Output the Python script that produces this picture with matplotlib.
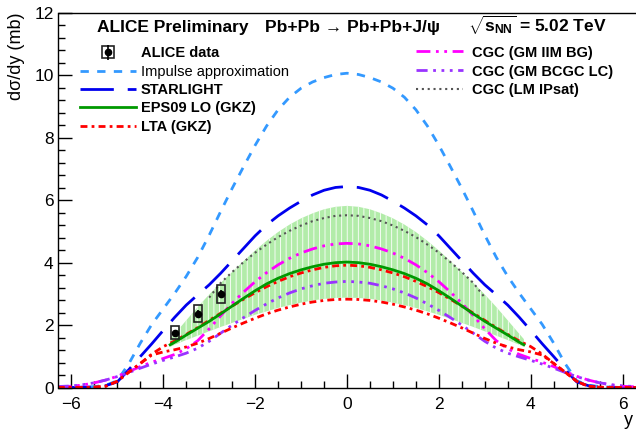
import numpy as np
import matplotlib
matplotlib.use("Agg")
import matplotlib.pyplot as plt
from matplotlib.lines import Line2D
from matplotlib.patches import Rectangle

plt.rcParams['font.family'] = ['Liberation Sans', 'DejaVu Sans']
plt.rcParams['mathtext.fontset'] = 'custom'
plt.rcParams['mathtext.rm'] = 'Liberation Sans'
plt.rcParams['mathtext.bf'] = 'Liberation Sans:bold'
plt.rcParams['mathtext.it'] = 'Liberation Sans:italic'
plt.rcParams['hatch.linewidth'] = 0.6

# rapidity grid (positive half, curves are symmetric in y)
y_full = [0, 0.25, 0.5, 0.75, 1.0, 1.25, 1.5, 1.75, 2.0, 2.25, 2.5, 2.75, 3.0,
          3.25, 3.5, 3.75, 4.0, 4.25, 4.5, 4.75, 5.0, 5.25, 5.5, 5.75, 6.0, 6.3]
impulse = [10.07, 10.03, 9.93, 9.79, 9.59, 9.30, 8.90, 8.38, 7.76, 7.08, 6.38, 5.64, 4.88,
           4.17, 3.56, 3.02, 2.52, 2.02, 1.42, 0.76, 0.22, 0.07, 0.03, 0.01, 0.0, 0.0]
starlight = [6.44, 6.41, 6.32, 6.17, 5.97, 5.75, 5.50, 5.21, 4.86, 4.46, 4.06, 3.66, 3.29,
             2.97, 2.64, 2.25, 1.83, 1.40, 0.99, 0.57, 0.18, 0.06, 0.02, 0.01, 0.0, 0.0]
lta_high = [3.92, 3.90, 3.85, 3.77, 3.67, 3.55, 3.40, 3.23, 3.04, 2.83, 2.61, 2.38, 2.15,
            1.92, 1.70, 1.49, 1.31, 1.07, 0.77, 0.49, 0.20, 0.04, 0.01, 0.0, 0.0, 0.0]
lta_low = [2.83, 2.82, 2.79, 2.74, 2.67, 2.58, 2.48, 2.36, 2.22, 2.07, 1.91, 1.74, 1.57,
           1.42, 1.30, 1.21, 1.14, 1.04, 0.77, 0.49, 0.20, 0.04, 0.01, 0.0, 0.0, 0.0]
cgc_iim = [4.62, 4.60, 4.54, 4.44, 4.31, 4.14, 3.93, 3.68, 3.39, 3.06, 2.70, 2.30, 1.88,
           1.50, 1.24, 1.06, 0.93, 0.81, 0.67, 0.51, 0.36, 0.24, 0.15, 0.08, 0.04, 0.02]
cgc_bcgc = [3.40, 3.38, 3.34, 3.26, 3.16, 3.03, 2.87, 2.68, 2.47, 2.24, 2.00, 1.74, 1.48,
            1.26, 1.10, 0.98, 0.87, 0.75, 0.62, 0.48, 0.35, 0.24, 0.15, 0.09, 0.05, 0.03]

# EPS09 curve and its uncertainty band (|y| < 3.85)
y_eps = [0, 0.25, 0.5, 0.75, 1.0, 1.25, 1.5, 1.75, 2.0, 2.25, 2.5, 2.75, 3.0, 3.25, 3.5, 3.75, 3.85]
eps09 = [4.02, 4.00, 3.95, 3.87, 3.77, 3.65, 3.50, 3.32, 3.10, 2.86, 2.61, 2.36, 2.12, 1.90, 1.68, 1.45, 1.37]
eps09_hi = [5.82, 5.79, 5.71, 5.58, 5.42, 5.22, 4.98, 4.70, 4.39, 4.05, 3.70, 3.35, 2.98, 2.58, 2.15, 1.72, 1.55]
eps09_lo = [2.88, 2.87, 2.84, 2.79, 2.72, 2.64, 2.55, 2.44, 2.33, 2.20, 2.07, 1.94, 1.80, 1.66, 1.52, 1.37, 1.30]

# IPsat curve (|y| < 3)
y_ips = [0, 0.25, 0.5, 0.75, 1.0, 1.25, 1.5, 1.75, 2.0, 2.25, 2.5, 2.75, 3.0]
cgc_ipsat = [5.52, 5.50, 5.43, 5.33, 5.19, 5.02, 4.82, 4.58, 4.32, 4.02, 3.70, 3.35, 2.88]

# ALICE data
y_data = [-3.75, -3.25, -2.75]
v_data = [1.76, 2.37, 3.00]
stat = [0.08, 0.10, 0.14]
syst = [0.22, 0.26, 0.28]


def mirror(x, v):
    x = np.asarray(x, float)
    v = np.asarray(v, float)
    return np.concatenate([-x[::-1], x[1:]]), np.concatenate([v[::-1], v[1:]])


fig = plt.figure(figsize=(6.36, 4.36), dpi=100)
ax = fig.add_axes([58.5 / 636, 48.5 / 436, 577 / 636, 374.5 / 436])

xb, lo = mirror(y_eps, eps09_lo)
_, hi = mirror(y_eps, eps09_hi)
ax.fill_between(xb, lo, hi, facecolor='#b2eca9', edgecolor='white', hatch='|||', linewidth=0, zorder=1)

lines = {}
x, v = mirror(y_full, impulse)
lines['imp'], = ax.plot(x, v, color='#3399ff', lw=2, ls=(0, (3, 3)))
x, v = mirror(y_full, starlight)
lines['star'], = ax.plot(x, v, color='#0000ee', lw=2, ls=(0, (12, 5)))
x, v = mirror(y_ips, cgc_ipsat)
lines['ips'], = ax.plot(x, v, color='#555555', lw=1.5, ls=(0, (1, 1.8)))
x, v = mirror(y_full, cgc_iim)
lines['iim'], = ax.plot(x, v, color='#ff00ff', lw=2, ls=(0, (5, 2, 1, 2, 1, 2)))
x, v = mirror(y_full, cgc_bcgc)
lines['bcgc'], = ax.plot(x, v, color='#9933ff', lw=2, ls=(0, (4, 2, 1, 2, 1, 2, 1, 2)))
x, v = mirror(y_full, lta_low)
lines['lta'], = ax.plot(x, v, color='#ff0000', lw=2, ls=(0, (2.5, 1.5, 1, 1.5)))
x, v = mirror(y_full, lta_high)
ax.plot(x, v, color='#ff0000', lw=2, ls=(0, (2.5, 1.5, 1, 1.5)))
x, v = mirror(y_eps, eps09)
lines['eps'], = ax.plot(x, v, color='#009900', lw=2)

# data: systematic boxes + stat bars
box_hw = 0.09
for yy, vv, ss in zip(y_data, v_data, syst):
    ax.add_patch(Rectangle((yy - box_hw, vv - ss), 2 * box_hw, 2 * ss, fill=False,
                           edgecolor='#222222', lw=1.2, zorder=5))
data = ax.errorbar(y_data, v_data, yerr=stat, fmt='o', color='black', ms=4.5,
                   elinewidth=1.2, capsize=0, zorder=6)

ax.set_xlim(-6.28, 6.28)
ax.set_ylim(0, 12)
ax.set_xticks(np.arange(-6, 7, 2))
ax.set_xticks(np.arange(-6, 6.5, 0.5), minor=True)
ax.set_yticks(np.arange(0, 13, 2))
ax.set_yticks(np.arange(0, 12.01, 0.4), minor=True)
ax.set_xticklabels(['\u22126', '\u22124', '\u22122', '0', '2', '4', '6'])
ax.tick_params(which='both', direction='in', top=False, right=False, labelsize=12.5, width=1)
ax.tick_params(which='major', length=10)
ax.tick_params(which='minor', length=5)
ax.tick_params(axis='x', pad=7)
ax.spines['right'].set_visible(False)
for s in ['left', 'bottom', 'top']:
    ax.spines[s].set_linewidth(1)

ax.set_ylabel('d\u03c3/dy (mb)', fontsize=13, loc='top')
ax.yaxis.set_label_coords(-0.058, 1.0)
ax.set_xlabel('y', fontsize=13, loc='right')
ax.xaxis.set_label_coords(0.995, -0.065)

box_h = Line2D([], [], marker='s', mfc='none', mec='#222222', ms=8, mew=1.2, ls='')
h1 = [(box_h, data), lines['imp'], lines['star'], lines['eps'], lines['lta']]
l1 = ['ALICE data', 'Impulse approximation', 'STARLIGHT', 'EPS09 LO (GKZ)', 'LTA (GKZ)']
leg1 = ax.legend(h1, l1, loc='upper left', bbox_to_anchor=(0.0373, 0.911), frameon=False,
                 borderpad=0, borderaxespad=0, handlelength=3.86, handletextpad=0.3,
                 labelspacing=0.30, prop={'weight': 'bold', 'size': 10.5})
leg1.get_texts()[1].set_fontweight('normal')
ax.add_artist(leg1)

h2 = [lines['iim'], lines['bcgc'], lines['ips']]
l2 = ['CGC (GM IIM BG)', 'CGC (GM BCGC LC)', 'CGC (LM IPsat)']
ax.legend(h2, l2, loc='upper left', bbox_to_anchor=(0.6196, 0.913), frameon=False,
          borderpad=0, borderaxespad=0, handlelength=3.2, handletextpad=0.65,
          labelspacing=0.34, prop={'weight': 'bold', 'size': 10.5})

fig.text(97 / 636, 1 - 32 / 436, 'ALICE Preliminary', fontsize=12.5, fontweight='bold', va='baseline')
fig.text(265 / 636, 1 - 32 / 436, 'Pb+Pb \u2192 Pb+Pb+J/\u03c8', fontsize=12.5, fontweight='bold', va='baseline')
fig.text(468 / 636, 1 - 32 / 436, r'$\sqrt{\mathbf{s}_{\mathbf{NN}}}$ = 5.02 TeV', fontsize=12.5,
         fontweight='bold', va='baseline')

fig.savefig('out.png', dpi=100)
